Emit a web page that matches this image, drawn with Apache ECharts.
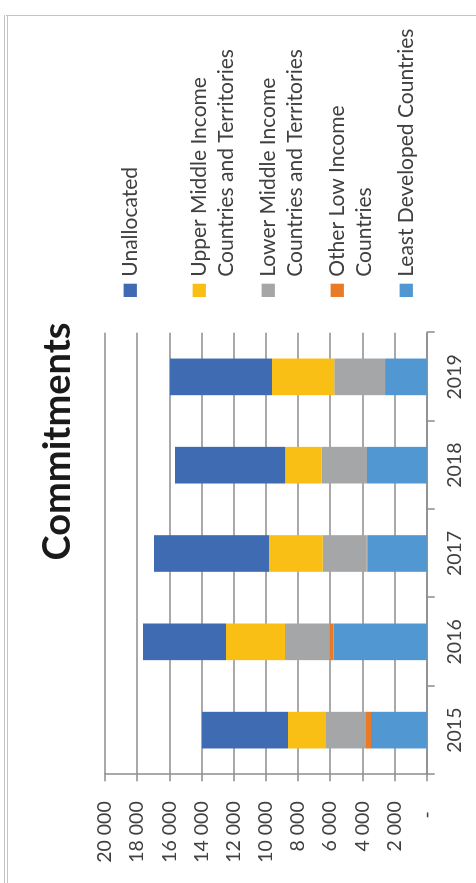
<!DOCTYPE html>
<html>
<head>
<meta charset="utf-8">
<script src="https://cdn.jsdelivr.net/npm/echarts@6/dist/echarts.min.js"></script>
<style>
  html, body { margin: 0; padding: 0; background: #fff; overflow: hidden; }
  #wrap {
    position: absolute; left: 0; top: 0; width: 883px; height: 476px;
    transform-origin: 0 0; transform: translate(0, 883px) rotate(-90deg);
    background: #fff; overflow: hidden;
  }
  #frame {
    position: absolute; left: -10px; top: 4px; width: 878px; height: 520px;
    border-top: 4px double #c4c4c4; border-right: 1px solid #c4c4c4;
    box-sizing: border-box;
  }
  #chart { position: absolute; left: 0; top: 0; width: 883px; height: 476px; }
</style>
</head>
<body>
<div id="wrap">
  <div id="frame"></div>
  <div id="chart"></div>
</div>
<script>
// ---- data ----
const years = ['2015', '2016', '2017', '2018', '2019'];
const leastDeveloped   = [3460, 5800, 3670, 3710, 2530];
const otherLowIncome   = [310, 250, 60, 0, 60];
const lowerMiddle      = [2490, 2760, 2740, 2820, 3150];
const upperMiddle      = [2360, 3670, 3340, 2260, 3880];
const unallocated      = [5350, 5160, 7150, 6860, 6340];
const valueTickLabels  = ['-', '2 000', '4 000', '6 000', '8 000', '10 000', '12 000', '14 000', '16 000', '18 000', '20 000'];

const names = {
  u: 'Unallocated',
  um: 'Upper Middle Income\nCountries and Territories',
  lm: 'Lower Middle Income\nCountries and Territories',
  ol: 'Other Low Income\nCountries',
  ld: 'Least Developed Countries'
};
const colors = {
  u: '#3f6bb3', um: '#fabf14', lm: '#a5a6a7', ol: '#e97a27', ld: '#5197d2'
};

const chart = echarts.init(document.getElementById('chart'), null, { renderer: 'canvas' });
const FONT = 'Lato';
const LH = 27.3;
function bar(key, data) {
  return {
    name: names[key], type: 'bar', stack: 'total', data: data,
    barWidth: '41.5%', itemStyle: { color: colors[key] }, emphasis: { disabled: true }
  };
}
chart.setOption({
  animation: false,
  title: {
    text: 'Commitments', left: 'center', top: 34,
    textStyle: { fontFamily: FONT, fontWeight: 'bold', fontSize: 38, color: '#1a1a1a' }
  },
  legend: {
    orient: 'vertical', left: 586, top: 89.3, padding: 0, itemGap: -12.9,
    itemWidth: 13.3, itemHeight: 13.3, icon: 'rect', selectedMode: false,
    textStyle: { fontFamily: FONT, fontSize: 21, color: '#404040', lineHeight: LH, padding: [0, 0, 0, 2] },
    formatter: function (name) {
      return '\n' + name + (name.indexOf('\n') >= 0 ? '' : '\n');
    },
    data: [names.u, names.um, names.lm, names.ol, names.ld]
  },
  grid: { left: 108.7, right: 883 - 550.3, top: 105, bottom: 476 - 426.7, containLabel: false },
  xAxis: {
    type: 'category', data: years,
    axisLine: { lineStyle: { color: '#8c8c8c', width: 1.5 } },
    axisTick: { show: true, length: 8, lineStyle: { color: '#8c8c8c', width: 1.5 } },
    axisLabel: { margin: 18, fontFamily: FONT, fontSize: 19.5, color: '#404040' }
  },
  yAxis: {
    type: 'value', min: 0, max: 20000, interval: 2000,
    axisLine: { show: true, lineStyle: { color: '#8c8c8c', width: 1.5 } },
    axisTick: { show: true, length: 7, lineStyle: { color: '#8c8c8c', width: 1.5 } },
    splitLine: { lineStyle: { color: '#8c8c8c', width: 1.5 } },
    axisLabel: {
      margin: 27, fontFamily: FONT, fontSize: 19.5, color: '#404040',
      formatter: function (v) {
        const t = valueTickLabels[Math.round(v / 2000)];
        return v === 0 ? '{d|' + t + '}' : t;
      },
      rich: { d: { fontFamily: FONT, fontSize: 19.5, color: '#404040', padding: [0, 10, 0, 0] } }
    }
  },
  series: [
    bar('ld', leastDeveloped),
    bar('ol', otherLowIncome),
    bar('lm', lowerMiddle),
    bar('um', upperMiddle),
    bar('u', unallocated)
  ]
});
</script>
</body>
</html>
